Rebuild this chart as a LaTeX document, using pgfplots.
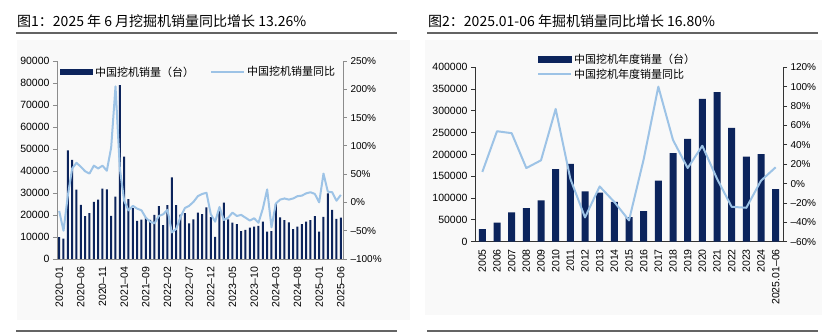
\documentclass[border=0pt]{standalone}
\usepackage{pgfplots}
\pgfplotsset{compat=1.18}
\usepackage{pgfplotstable}
\usepackage{fontspec}
\setmainfont{Liberation Sans}
\newfontfamily\cjk{Noto Sans CJK SC}
\definecolor{navy}{RGB}{12,36,92}
\definecolor{lblue}{RGB}{157,195,230}
\definecolor{axgray}{RGB}{140,140,140}
\definecolor{rulegray}{RGB}{100,100,100}
\definecolor{panel}{RGB}{249,249,249}

\pgfplotstableread{
i v y
0 9957 -15
1 9280 -50
2 49400 12
3 45000 60
4 31500 70
5 24600 63
6 19500 55
7 20900 51
8 26000 65
9 27000 60
10 32000 65
11 31600 56
12 19600 97
13 28300 205
14 79000 60
15 46500 3
16 27200 -14
17 23100 -6
18 17300 -11
19 17900 -14
20 19000 -27
21 17800 -34
22 20000 -37
23 24000 -24
24 15400 -21
25 24500 -13
26 37100 -53
27 24500 -47
28 20200 -26
29 20800 -10
30 16200 -6
31 18000 1
32 21100 11
33 20400 15
34 23500 17
35 19000 -21
36 10100 -34
37 22600 -8
38 25600 -31
39 18000 -27
40 16500 -18
41 15800 -24
42 12700 -22
43 13200 -27
44 14250 -32
45 14700 -28
46 15000 -36
47 17000 -11
48 12400 23
49 12700 -44
50 25000 -2
51 18900 5
52 17700 7
53 16600 5
54 13600 7
55 14700 11
56 15900 12
57 17000 16
58 17700 18
59 19500 15
60 12400 0
61 19200 51
62 29800 19
63 22300 18
64 18200 3
65 18800 13.26
}\monthly

\pgfplotstableread{
i v y
0 29000 12
1 44000 54
2 67000 52
3 77000 16
4 95000 24
5 166700 77
6 178300 5
7 115500 -35
8 112500 -3
9 91500 -19
10 56300 -38
11 70300 25
12 140300 100
13 203400 45
14 235700 16
15 327600 39
16 342800 5
17 261300 -24
18 195000 -25
19 201000 3
20 120500 16.8
}\annual

\begin{document}
\begin{tikzpicture}
\useasboundingbox (0pt,0pt) rectangle (830pt,336pt);
\fill[panel] (17pt,296pt) rectangle (410pt,16pt);
\fill[panel] (425pt,296pt) rectangle (822pt,21pt);
\node[anchor=west, font=\cjk\fontsize{14}{16}\selectfont, inner sep=0pt] at (17pt,315pt) {图1：2025 年 6 月挖掘机销量同比增长 13.26\%};
\node[anchor=west, font=\cjk\fontsize{14}{16}\selectfont, inner sep=0pt] at (428pt,315pt) {图2：2025.01-06 年掘机销量同比增长 16.80\%};
\draw[rulegray, line width=1.6pt] (16pt,303pt) -- (397pt,303pt);
\draw[rulegray, line width=1.6pt] (16pt,5pt) -- (397pt,5pt);
\draw[rulegray, line width=1.6pt] (427pt,303pt) -- (818pt,303pt);
\draw[rulegray, line width=1.6pt] (427pt,5pt) -- (818pt,5pt);

% ---------- Chart 1 ----------
\begin{axis}[
  at={(57pt,77pt)}, anchor=south west, width=286pt, height=198pt, scale only axis,
  xmin=-0.5, xmax=65.5, ymin=0, ymax=90000,
  axis x line*=bottom, axis y line*=left,
  axis line style={axgray, line width=0.8pt},
  ytick={0,10000,...,90000},
  scaled y ticks=false,
  /pgf/number format/assume math mode=true,
  /pgf/number format/fixed,
  /pgf/number format/precision=0,
  /pgf/number format/set thousands separator={},
  yticklabel style={font=\fontsize{10.5}{12}\selectfont},
  xtick={0,5,...,65},
  xticklabels={2020–01,2020–06,2020–11,2021–04,2021–09,2022–02,2022–07,2022–12,2023–05,2023–10,2024–03,2024–08,2025–01,2025–06},
  xticklabel style={rotate=90, anchor=east, font=\fontsize{10.5}{12}\selectfont},
  x tick style={draw=none},
  y tick style={axgray, line width=0.8pt},
  tick align=outside, major tick length=4pt,
  ybar, bar width=2pt,
  legend style={at={(0.0105,0.944)}, anchor=west, draw=none, fill=none,
    font=\cjk\fontsize{11}{13}\selectfont, inner sep=0pt},
  legend cell align=left,
  legend image code/.code={\fill[navy] (0pt,-3pt) rectangle (33pt,3pt);},
]
\addplot[fill=navy, draw=none] table[x=i,y=v]{\monthly};
\addlegendentry{中国挖机销量（台）}
\end{axis}
\begin{axis}[
  at={(57pt,77pt)}, anchor=south west, width=286pt, height=198pt, scale only axis,
  xmin=-0.5, xmax=65.5, ymin=-100, ymax=250,
  axis x line=none, axis y line*=right,
  axis line style={axgray, line width=0.8pt},
  ytick={-100,-50,...,250},
  yticklabels={–100\%,–50\%,0\%,50\%,100\%,150\%,200\%,250\%},
  yticklabel style={font=\fontsize{10}{12}\selectfont},
  y tick style={axgray, line width=0.8pt},
  tick align=outside, major tick length=4pt,
  legend style={at={(0.535,0.944)}, anchor=west, draw=none, fill=none,
    font=\cjk\fontsize{11}{13}\selectfont, inner sep=0pt},
  legend cell align=left,
  legend image code/.code={\draw[lblue, line width=2pt] (0pt,0pt) -- (33pt,0pt);},
]
\addplot[lblue, line width=2pt, line join=round] table[x=i,y=y]{\monthly};
\addlegendentry{中国挖机销量同比}
\end{axis}

% ---------- Chart 2 ----------
\begin{axis}[
  at={(475pt,94.3pt)}, anchor=south west, width=308pt, height=174.4pt, scale only axis,
  xmin=-0.5, xmax=20.5, ymin=0, ymax=400000,
  axis x line*=bottom, axis y line*=left,
  axis line style={black!80, line width=0.8pt},
  ytick={0,50000,...,400000},
  scaled y ticks=false,
  /pgf/number format/assume math mode=true,
  /pgf/number format/fixed,
  /pgf/number format/precision=0,
  /pgf/number format/set thousands separator={},
  yticklabel style={font=\fontsize{10.5}{12}\selectfont},
  xtick={0,...,20},
  xticklabels={2005,2006,2007,2008,2009,2010,2011,2012,2013,2014,2015,2016,2017,2018,2019,2020,2021,2022,2023,2024,{2025.01–06}},
  xticklabel style={rotate=90, anchor=east, font=\fontsize{10.5}{12}\selectfont},
  x tick style={draw=none},
  tick align=outside,
  minor xtick={0.5,1.5,...,19.5},
  minor x tick style={black!80, line width=0.8pt, yshift=4pt},
  minor tick length=4pt,
  y tick style={black!80, line width=0.8pt},
  major tick length=4pt,
  ybar, bar width=7pt,
]
\addplot[fill=navy, draw=none] table[x=i,y=v]{\annual};
\end{axis}
\begin{axis}[
  at={(475pt,94.3pt)}, anchor=south west, width=308pt, height=174.4pt, scale only axis,
  xmin=-0.5, xmax=20.5, ymin=-60, ymax=120,
  axis x line=none, axis y line*=right,
  axis line style={black!80, line width=0.8pt},
  ytick={-60,-40,...,120},
  yticklabels={–60\%,–40\%,–20\%,0\%,20\%,40\%,60\%,80\%,100\%,120\%},
  yticklabel style={font=\fontsize{10}{12}\selectfont},
  y tick style={black!80, line width=0.8pt},
  tick align=outside, major tick length=4pt,
  legend style={at={(0.2013,1.042)}, anchor=north west, yshift=8pt, draw=none, fill=none,
    font=\cjk\fontsize{11}{13}\selectfont, inner sep=0pt, row sep=0pt},
  legend cell align=left,
]
\addlegendimage{legend image code/.code={\fill[navy] (0pt,-3pt) rectangle (33pt,3pt);}}
\addlegendentry{中国挖机年度销量（台）}
\addplot[lblue, line width=2pt, line join=round,
  legend image code/.code={\draw[lblue, line width=2pt] (0pt,0pt) -- (33pt,0pt);}] table[x=i,y=y]{\annual};
\addlegendentry{中国挖机年度销量同比}
\end{axis}
\end{tikzpicture}
\end{document}
